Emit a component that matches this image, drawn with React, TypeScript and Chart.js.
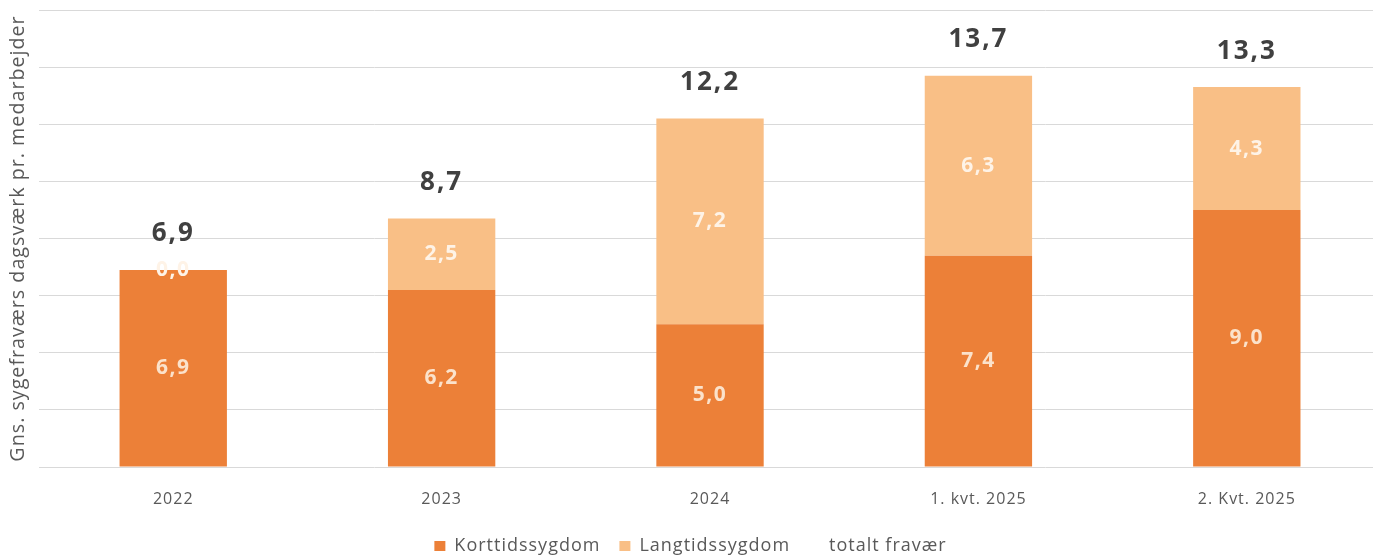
import React, { useEffect, useRef } from 'react';
import { Chart, registerables } from 'chart.js';

Chart.register(...registerables);

const categories = ['2022', '2023', '2024', '1. kvt. 2025', '2. Kvt. 2025'];
const korttid = [6.9, 6.2, 5.0, 7.4, 9.0];
const langtid = [0.0, 2.5, 7.2, 6.3, 4.3];
const totals = [6.9, 8.7, 12.2, 13.7, 13.3];
const yMin = 0;
const yMax = 16;
const yStep = 2;

const FONT = 'Open Sans';
const fmt = (v: number) => v.toFixed(1).replace('.', ',');

const spacingPlugin = {
  id: 'letterSpacing',
  beforeUpdate(chart: any) {
    (chart.ctx as any).letterSpacing = '1px';
  },
  beforeDraw(chart: any) {
    (chart.ctx as any).letterSpacing = '1px';
  },
};

const labelPlugin = {
  id: 'valueLabels',
  afterDatasetsDraw(chart: any) {
    const ctx = chart.ctx;
    ctx.save();
    ctx.textAlign = 'center';
    ctx.textBaseline = 'middle';
    (ctx as any).letterSpacing = '1.5px';
    [0, 1].forEach((di) => {
      const meta = chart.getDatasetMeta(di);
      meta.data.forEach((el: any, i: number) => {
        const { x, y, base } = el.getProps(['x', 'y', 'base'], true);
        const v = chart.data.datasets[di].data[i] as number;
        ctx.font = `bold 21px ${FONT}`;
        ctx.fillStyle = di === 0 ? '#FBE2CB' : '#FEF3E7';
        ctx.fillText(fmt(v), x, (y + base) / 2);
      });
    });
    const mt = chart.getDatasetMeta(2);
    (ctx as any).letterSpacing = '2px';
    mt.data.forEach((el: any, i: number) => {
      ctx.font = `bold 26px ${FONT}`;
      ctx.fillStyle = '#404040';
      ctx.fillText(fmt(totals[i]), el.x, el.y - 36);
    });
    ctx.restore();
  },
};

export default function App() {
  const ref = useRef<HTMLCanvasElement | null>(null);
  useEffect(() => {
    if (!ref.current) return;
    const chart = new Chart(ref.current, {
      type: 'bar',
      data: {
        labels: categories,
        datasets: [
          {
            label: 'Korttidssygdom',
            data: korttid,
            backgroundColor: '#EC8038',
            borderWidth: 0,
            categoryPercentage: 1,
            barPercentage: 0.4,
          },
          {
            label: 'Langtidssygdom',
            data: langtid,
            backgroundColor: '#F9BF86',
            borderWidth: 0,
            categoryPercentage: 1,
            barPercentage: 0.4,
          },
          {
            type: 'line',
            label: 'totalt fravær',
            data: totals,
            stack: 'total',
            borderColor: 'rgba(0,0,0,0)',
            backgroundColor: 'rgba(0,0,0,0)',
            pointRadius: 0,
            showLine: false,
          } as any,
        ],
      },
      options: {
        animation: false,
        responsive: true,
        maintainAspectRatio: false,
        layout: { padding: { top: 10, left: 0, right: 0, bottom: -9 } },
        plugins: {
          legend: {
            position: 'bottom',
            labels: {
              font: { family: FONT, size: 18 },
              color: '#595959',
              boxWidth: 11,
              boxHeight: 10,
              padding: 19,
            },
          },
          tooltip: { enabled: false },
        },
        scales: {
          x: {
            stacked: true,
            grid: { display: false, drawTicks: false },
            border: { display: false },
            ticks: {
              font: { family: FONT, size: 16 },
              color: '#595959',
              padding: 23,
            },
            afterFit: (scale: any) => {
              scale.height = 51;
            },
          },
          y: {
            stacked: true,
            min: yMin,
            max: yMax,
            ticks: { display: false, stepSize: yStep },
            grid: { color: '#D9D9D9', lineWidth: 1, drawTicks: false },
            border: { display: false },
            title: {
              display: true,
              text: 'Gns. sygefraværs dagsværk pr. medarbejder',
              font: { family: FONT, size: 19.7 },
              color: '#595959',
              padding: { top: 6.2, bottom: 9.2 },
            },
          },
        },
      },
      plugins: [spacingPlugin, labelPlugin],
    });
    return () => chart.destroy();
  }, []);
  return (
    <div style={{ position: 'fixed', left: 0, top: 0, width: 1381, height: 556, background: '#fff' }}>
      <canvas ref={ref} />
    </div>
  );
}
